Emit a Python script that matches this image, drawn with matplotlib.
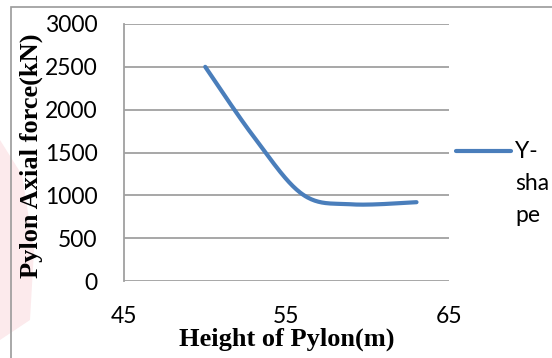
import numpy as np
import matplotlib
matplotlib.use("Agg")
import matplotlib.pyplot as plt
from matplotlib.patches import Rectangle, Polygon
from matplotlib.lines import Line2D

# Data
heights = [50, 53, 56, 59, 63]
axial_force = [2500, 1680, 1010, 895, 920]
series_name = "Y-shape"
series_lines = ["Y-", "sha", "pe"]
x_ticks = [45, 55, 65]
y_ticks = [0, 500, 1000, 1500, 2000, 2500, 3000]
x_title = "Height of Pylon(m)"
y_title = "Pylon Axial force(kN)"

def excel_smooth(xs, ys, n=40):
    P = np.column_stack([xs, ys]).astype(float)
    m = len(P)
    out = []
    for i in range(m - 1):
        p0 = P[i - 1] if i > 0 else P[i]
        p1 = P[i]
        p2 = P[i + 1]
        p3 = P[i + 2] if i + 2 < m else P[i + 1]
        c1 = p1 + (p2 - p0) / 6.0
        c2 = p2 - (p3 - p1) / 6.0
        t = np.linspace(0, 1, n)[:, None]
        seg = ((1 - t) ** 3) * p1 + 3 * ((1 - t) ** 2) * t * c1 + 3 * (1 - t) * t ** 2 * c2 + t ** 3 * p2
        out.append(seg if i == 0 else seg[1:])
    out = np.vstack(out)
    return out[:, 0], out[:, 1]

W, H = 552, 358
def fx(px):
    return px / W
def fy(py):
    return 1 - py / H

fig = plt.figure(figsize=(W / 100, H / 100), dpi=100)
fig.patch.set_facecolor("white")

# faint background watermark tint (left side)
fig.patches.append(Polygon([(fx(0), fy(140)), (fx(22), fy(175)), (fx(34), fy(250)),
                            (fx(30), fy(320)), (fx(0), fy(340))],
                           closed=True, transform=fig.transFigure,
                           facecolor="#fceaec", edgecolor="none", zorder=-5))

# outer chart border
fig.patches.append(Rectangle((fx(11), -0.1), 1.2, fy(7) + 0.1, transform=fig.transFigure,
                             fill=False, edgecolor="#9a9a9a", linewidth=1.2, zorder=-4))

ax = fig.add_axes([fx(124), fy(281), (449 - 124) / W, (281 - 24) / H])
ax.patch.set_alpha(0)
sx, sy = excel_smooth(heights, axial_force)
line, = ax.plot(sx, sy, color="#4A7EBB", linewidth=3.0, solid_capstyle="round", label=series_name)

ax.set_xlim(45, 65)
ax.set_ylim(0, 3000)
ax.set_xticks(x_ticks)
ax.set_yticks(y_ticks)
ax.yaxis.grid(True, color="#a0a0a0", linewidth=1.3)
ax.set_axisbelow(True)
for s in ["top", "right", "bottom"]:
    ax.spines[s].set_visible(False)
ax.spines["left"].set_color("#a0a0a0")
ax.spines["left"].set_linewidth(1.3)
ax.tick_params(axis="both", length=0, labelsize=16.5, labelcolor="#000000")
ax.tick_params(axis="y", pad=19)
ax.tick_params(axis="x", pad=18)
for lab in ax.get_xticklabels() + ax.get_yticklabels():
    lab.set_family("Lato")

# axis titles
fig.text(fx(286.5), fy(339), x_title, fontsize=19, fontweight="bold", family="Liberation Serif",
         ha="center", va="center", zorder=10)
fig.text(fx(31), fy(156), y_title, fontsize=19, fontweight="bold", family="Liberation Serif",
         ha="center", va="center", rotation=90, zorder=10)

# legend (drawn manually so the key sits on the first text line, as in the original)
fig.lines.append(Line2D([fx(456), fx(511)], [fy(151), fy(151)], transform=fig.transFigure,
                        color=line.get_color(), linewidth=3.0, solid_capstyle="round"))
for txt, base in zip(series_lines, [158, 190, 222]):
    fig.text(fx(515), fy(base), txt, fontsize=16.5, family="Lato", va="baseline", ha="left")

fig.savefig("out.png", dpi=100)
